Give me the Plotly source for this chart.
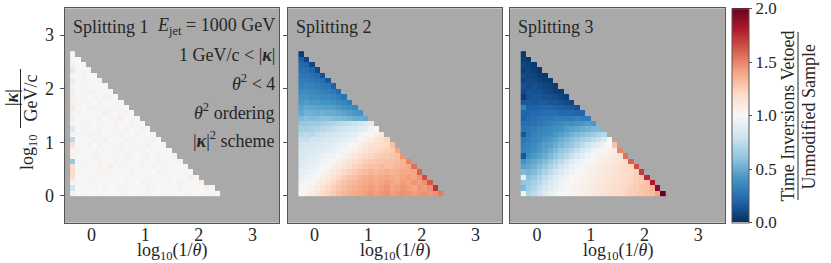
import plotly.graph_objects as go

# ---------------- data ----------------
BIN = 0.1
X_START = [-0.4, -0.3, -0.3]          # left edge of first log10(1/theta) bin per panel
Y_START = 0.0                          # lower edge of first log10(|k|) bin
PANEL_TITLES = ["Splitting 1", "Splitting 2", "Splitting 3"]
X_TICKS = [0, 1, 2, 3]
Y_TICKS = [0, 1, 2, 3]
CB_TICKS = [0.0, 0.5, 1.0, 1.5, 2.0]
Z_MIN, Z_MAX = 0.0, 2.0

# ratio values, rows listed from the top row (largest |k|) down to the bottom row
SPLIT1 = [
    [1.02],
    [0.97, 1.00],
    [1.03, 0.99, 1.01],
    [0.88, 1.01, 0.98, 1.02],
    [1.02, 0.98, 1.03, 0.99, 1.01],
    [0.90, 1.00, 0.97, 1.02, 0.99, 1.03],
    [1.04, 0.99, 1.02, 0.98, 1.01, 0.99, 1.02],
    [1.08, 1.01, 0.98, 1.03, 0.97, 1.02, 1.00, 0.98],
    [0.96, 0.99, 1.04, 1.00, 0.98, 1.01, 0.97, 1.03, 0.99],
    [1.05, 1.02, 0.98, 1.03, 1.00, 0.97, 1.02, 0.99, 1.04, 0.98],
    [1.10, 0.98, 1.01, 0.97, 1.04, 1.02, 0.98, 1.01, 0.97, 1.02, 0.99],
    [0.95, 1.03, 0.99, 1.02, 0.98, 1.01, 1.05, 0.97, 1.00, 1.03, 0.98, 1.01],
    [1.08, 0.99, 1.02, 0.98, 1.01, 0.97, 1.00, 1.03, 0.98, 1.06, 1.00, 0.97, 1.02],
    [0.97, 1.02, 0.98, 1.04, 0.99, 1.02, 0.97, 1.01, 1.04, 0.98, 1.01, 0.96, 1.03, 0.99],
    [0.85, 1.00, 1.03, 0.98, 1.02, 0.96, 1.01, 0.99, 1.03, 1.00, 0.97, 1.02, 0.99, 1.05, 0.98],
    [1.02, 0.98, 1.01, 1.04, 0.97, 1.02, 0.99, 1.03, 0.98, 0.96, 1.02, 1.00, 0.97, 1.02, 1.00, 0.98],
    [0.72, 1.01, 0.98, 1.00, 1.03, 0.98, 0.96, 1.01, 0.99, 1.02, 1.06, 0.98, 1.01, 0.99, 1.03, 0.97, 1.00],
    [1.15, 0.99, 1.02, 0.97, 1.00, 1.04, 1.01, 0.98, 1.02, 0.97, 1.00, 1.03, 0.98, 1.01, 0.96, 1.02, 0.99, 1.03],
    [0.98, 1.03, 0.99, 1.02, 0.98, 1.01, 1.03, 0.99, 0.97, 1.04, 0.99, 1.01, 0.97, 1.02, 1.00, 0.98, 1.03, 0.99, 1.01],
    [1.04, 0.98, 1.01, 0.99, 1.05, 0.97, 1.00, 1.02, 0.98, 1.01, 0.97, 1.03, 1.00, 0.98, 1.04, 1.00, 0.97, 1.02, 0.99, 1.03],
    [0.62, 1.01, 0.97, 1.02, 1.00, 1.03, 0.98, 1.01, 1.04, 0.99, 1.02, 0.98, 1.01, 0.97, 1.02, 0.99, 1.03, 0.98, 1.00, 1.02, 0.97],
    [1.18, 0.99, 1.02, 0.98, 1.01, 1.03, 0.99, 1.06, 1.00, 0.97, 1.02, 1.00, 0.98, 1.03, 1.01, 0.97, 1.02, 1.04, 0.98, 1.01, 0.99, 1.02],
    [1.20, 1.02, 0.98, 1.01, 0.99, 1.02, 1.04, 0.98, 1.01, 1.03, 0.99, 0.96, 1.01, 0.98, 1.02, 1.00, 0.97, 1.03, 0.99, 1.01, 0.98, 1.02, 0.99],
    [1.16, 1.00, 1.03, 0.99, 1.02, 0.98, 1.01, 0.99, 1.04, 1.00, 0.98, 1.02, 0.99, 1.01, 0.97, 1.02, 1.00, 0.98, 1.03, 0.99, 1.01, 1.00, 1.08, 0.99],
    [1.03, 0.98, 1.01, 0.97, 1.02, 1.00, 0.98, 1.03, 0.99, 1.01, 0.97, 1.02, 1.00, 0.96, 1.02, 0.99, 1.01, 0.98, 1.02, 1.00, 0.97, 1.03, 0.99, 1.01, 1.05],
    [0.80, 1.01, 0.99, 1.02, 0.98, 1.00, 1.03, 0.99, 1.01, 0.97, 1.02, 1.00, 0.98, 1.01, 0.97, 1.03, 0.99, 1.01, 0.98, 1.02, 0.96, 1.01, 0.99, 1.02, 1.00, 1.06, 0.99],
    [0.97, 1.00, 1.02, 0.99, 1.01, 0.98, 1.02, 1.00, 0.99, 1.03, 0.98, 1.01, 0.99, 1.02, 0.97, 1.01, 1.00, 0.98, 1.02, 0.99, 1.01, 0.98, 1.03, 1.00, 0.99, 1.02, 1.04, 1.00],
]

SPLIT2 = [
    [0.05],
    [0.18, 0.08],
    [0.22, 0.20, 0.08],
    [0.25, 0.24, 0.20, 0.10],
    [0.28, 0.27, 0.25, 0.22, 0.12],
    [0.30, 0.30, 0.28, 0.26, 0.24, 0.15],
    [0.32, 0.33, 0.32, 0.30, 0.28, 0.26, 0.18],
    [0.36, 0.36, 0.35, 0.34, 0.32, 0.30, 0.28, 0.22],
    [0.40, 0.40, 0.38, 0.38, 0.36, 0.35, 0.33, 0.30, 0.26],
    [0.42, 0.44, 0.42, 0.42, 0.40, 0.40, 0.38, 0.36, 0.34, 0.30],
    [0.46, 0.48, 0.47, 0.46, 0.46, 0.45, 0.44, 0.42, 0.40, 0.38, 0.35],
    [0.48, 0.52, 0.52, 0.50, 0.52, 0.50, 0.50, 0.48, 0.46, 0.44, 0.42, 0.40],
    [0.55, 0.58, 0.56, 0.57, 0.58, 0.58, 0.56, 0.55, 0.54, 0.52, 0.50, 0.50, 0.48],
    [0.62, 0.62, 0.64, 0.64, 0.66, 0.68, 0.70, 0.72, 0.74, 0.76, 0.78, 0.80, 0.84, 0.88],
    [0.66, 0.66, 0.68, 0.70, 0.72, 0.74, 0.76, 0.78, 0.80, 0.82, 0.84, 0.88, 0.90, 0.94, 1.00],
    [0.72, 0.74, 0.72, 0.76, 0.78, 0.80, 0.82, 0.84, 0.86, 0.88, 0.90, 0.94, 0.98, 1.02, 1.06, 1.12],
    [0.78, 0.76, 0.80, 0.80, 0.82, 0.84, 0.86, 0.88, 0.90, 0.92, 0.96, 1.00, 1.04, 1.08, 1.12, 1.15, 1.22],
    [0.80, 0.82, 0.82, 0.84, 0.86, 0.88, 0.90, 0.92, 0.94, 0.98, 1.02, 1.06, 1.10, 1.14, 1.16, 1.18, 1.20, 1.30],
    [0.82, 0.84, 0.86, 0.88, 0.88, 0.90, 0.92, 0.95, 0.98, 1.02, 1.06, 1.10, 1.14, 1.18, 1.20, 1.22, 1.24, 1.26, 1.40],
    [0.84, 0.86, 0.88, 0.90, 0.92, 0.94, 0.96, 1.00, 1.04, 1.08, 1.12, 1.16, 1.20, 1.22, 1.24, 1.26, 1.26, 1.28, 1.30, 1.45],
    [0.86, 0.88, 0.90, 0.92, 0.95, 0.98, 1.02, 1.06, 1.10, 1.14, 1.18, 1.22, 1.24, 1.26, 1.28, 1.28, 1.30, 1.30, 1.32, 1.35, 1.50],
    [0.88, 0.90, 0.92, 0.95, 0.98, 1.02, 1.06, 1.10, 1.14, 1.18, 1.22, 1.25, 1.28, 1.30, 1.30, 1.32, 1.30, 1.32, 1.34, 1.35, 1.38, 1.55],
    [0.90, 0.92, 0.95, 0.98, 1.02, 1.06, 1.10, 1.15, 1.20, 1.24, 1.26, 1.30, 1.32, 1.34, 1.32, 1.34, 1.36, 1.34, 1.36, 1.38, 1.38, 1.40, 1.60],
    [0.92, 0.95, 0.98, 1.02, 1.06, 1.10, 1.15, 1.20, 1.25, 1.28, 1.30, 1.34, 1.36, 1.38, 1.36, 1.38, 1.40, 1.38, 1.36, 1.40, 1.42, 1.40, 1.44, 1.65],
    [0.95, 0.98, 1.02, 1.06, 1.10, 1.15, 1.20, 1.25, 1.28, 1.32, 1.34, 1.36, 1.38, 1.40, 1.38, 1.40, 1.42, 1.40, 1.38, 1.42, 1.40, 1.44, 1.42, 1.46, 1.62],
    [0.98, 1.02, 1.05, 1.10, 1.15, 1.20, 1.25, 1.28, 1.32, 1.34, 1.36, 1.38, 1.40, 1.42, 1.40, 1.42, 1.44, 1.40, 1.42, 1.44, 1.42, 1.40, 1.44, 1.42, 1.46, 1.72],
    [1.00, 1.04, 1.08, 1.12, 1.18, 1.22, 1.26, 1.30, 1.34, 1.36, 1.38, 1.40, 1.42, 1.44, 1.42, 1.44, 1.46, 1.42, 1.44, 1.46, 1.44, 1.42, 1.44, 1.46, 1.44, 1.46, 1.52],
]

SPLIT3 = [
    [0.03],
    [0.06, 0.03],
    [0.08, 0.06, 0.03],
    [0.06, 0.08, 0.05, 0.03],
    [0.10, 0.08, 0.07, 0.05, 0.03],
    [0.08, 0.10, 0.09, 0.07, 0.05, 0.04],
    [0.12, 0.10, 0.12, 0.10, 0.08, 0.06, 0.04],
    [0.10, 0.14, 0.12, 0.12, 0.10, 0.08, 0.06, 0.05],
    [0.04, 0.12, 0.14, 0.14, 0.12, 0.12, 0.10, 0.08, 0.06],
    [0.14, 0.16, 0.15, 0.16, 0.16, 0.14, 0.14, 0.12, 0.10, 0.08],
    [0.32, 0.18, 0.18, 0.20, 0.20, 0.20, 0.18, 0.18, 0.16, 0.15, 0.12],
    [0.20, 0.20, 0.22, 0.22, 0.24, 0.24, 0.24, 0.22, 0.22, 0.22, 0.20, 0.20],
    [0.18, 0.22, 0.24, 0.26, 0.28, 0.28, 0.30, 0.30, 0.30, 0.30, 0.32, 0.30, 0.30],
    [0.24, 0.24, 0.26, 0.28, 0.30, 0.32, 0.34, 0.36, 0.38, 0.38, 0.40, 0.42, 0.44, 0.42],
    [0.26, 0.28, 0.30, 0.32, 0.34, 0.36, 0.38, 0.40, 0.44, 0.46, 0.48, 0.50, 0.52, 0.54, 0.55],
    [0.14, 0.28, 0.32, 0.34, 0.36, 0.38, 0.42, 0.45, 0.48, 0.52, 0.55, 0.58, 0.60, 0.64, 0.68, 0.72],
    [0.28, 0.30, 0.34, 0.36, 0.40, 0.42, 0.46, 0.50, 0.54, 0.58, 0.62, 0.66, 0.70, 0.74, 0.78, 0.85, 0.98],
    [0.30, 0.32, 0.36, 0.40, 0.44, 0.46, 0.50, 0.54, 0.58, 0.62, 0.68, 0.74, 0.80, 0.86, 0.90, 0.95, 1.00, 1.30],
    [0.32, 0.34, 0.38, 0.42, 0.46, 0.50, 0.55, 0.60, 0.64, 0.70, 0.76, 0.82, 0.88, 0.94, 0.98, 1.02, 1.05, 1.08, 1.50],
    [0.15, 0.38, 0.42, 0.46, 0.50, 0.55, 0.60, 0.66, 0.72, 0.78, 0.84, 0.90, 0.95, 1.00, 1.04, 1.06, 1.08, 1.10, 1.15, 1.55],
    [0.40, 0.44, 0.48, 0.52, 0.56, 0.62, 0.68, 0.74, 0.80, 0.86, 0.92, 0.96, 1.00, 1.04, 1.06, 1.08, 1.10, 1.12, 1.14, 1.18, 1.60],
    [0.45, 0.48, 0.52, 0.56, 0.62, 0.68, 0.74, 0.80, 0.86, 0.92, 0.96, 1.00, 1.04, 1.06, 1.08, 1.10, 1.12, 1.14, 1.16, 1.18, 1.22, 1.65],
    [0.55, 0.52, 0.56, 0.62, 0.68, 0.74, 0.80, 0.86, 0.92, 0.96, 1.00, 1.02, 1.04, 1.06, 1.08, 1.10, 1.12, 1.14, 1.16, 1.18, 1.20, 1.24, 1.70],
    [0.90, 0.58, 0.62, 0.68, 0.74, 0.80, 0.86, 0.92, 0.96, 1.00, 1.02, 1.04, 1.06, 1.08, 1.10, 1.12, 1.14, 1.16, 1.18, 1.20, 1.22, 1.24, 1.28, 1.75],
    [0.60, 0.62, 0.66, 0.72, 0.78, 0.84, 0.90, 0.95, 0.98, 1.00, 1.02, 1.04, 1.06, 1.08, 1.10, 1.12, 1.14, 1.16, 1.18, 1.20, 1.22, 1.24, 1.26, 1.30, 1.80],
    [0.55, 0.65, 0.70, 0.76, 0.82, 0.88, 0.92, 0.96, 1.00, 1.02, 1.04, 1.06, 1.08, 1.10, 1.12, 1.14, 1.16, 1.18, 1.20, 1.22, 1.24, 1.26, 1.28, 1.30, 1.35, 1.90],
    [0.95, 0.68, 0.74, 0.80, 0.86, 0.92, 0.96, 0.98, 1.00, 1.02, 1.04, 1.06, 1.08, 1.10, 1.12, 1.14, 1.16, 1.18, 1.20, 1.22, 1.24, 1.26, 1.28, 1.30, 1.32, 1.40, 2.00],
]

PANELS = [SPLIT1, SPLIT2, SPLIT3]

# ---------------- styling ----------------
W, H = 831, 263
FONT = "Liberation Serif"
FS = 18
TXT = "#262626"
FRAME = "#555555"
BG = "#a9a9a9"
RDBU_R = [
    [0.0, "rgb(5,48,97)"], [0.1, "rgb(33,102,172)"], [0.2, "rgb(67,147,195)"],
    [0.3, "rgb(146,197,222)"], [0.4, "rgb(209,229,240)"], [0.5, "rgb(247,247,247)"],
    [0.6, "rgb(253,219,199)"], [0.7, "rgb(244,165,130)"], [0.8, "rgb(214,96,77)"],
    [0.9, "rgb(178,24,43)"], [1.0, "rgb(103,0,31)"],
]


def px(x):
    return x / W


def py(y):
    return 1 - y / H


PANEL_PX = [(64.7, 279.3), (287.7, 502.3), (510.0, 725.0)]
TOP_PX, BOT_PX = 8.3, 222.7


def to_grid(rows_top_first):
    rows = list(reversed(rows_top_first))
    ncols = max(len(r) for r in rows)
    return [list(r) + [None] * (ncols - len(r)) for r in rows]


fig = go.Figure()
layout = dict(
    width=W, height=H, margin=dict(l=0, r=0, t=0, b=0, pad=0, autoexpand=False),
    paper_bgcolor="white", plot_bgcolor=BG,
    font=dict(family=FONT, size=FS, color=TXT),
    showlegend=False,
)

for k, rows in enumerate(PANELS):
    sfx = "" if k == 0 else str(k + 1)
    fig.add_trace(go.Heatmap(
        z=to_grid(rows),
        x0=X_START[k] + BIN / 2, dx=BIN,
        y0=Y_START + BIN / 2, dy=BIN,
        zmin=Z_MIN, zmax=Z_MAX, colorscale=RDBU_R,
        showscale=(k == 2),
        xaxis="x" + sfx, yaxis="y" + sfx,
        hoverongaps=False,
        colorbar=dict(
            x=px(731.7), xanchor="left", xpad=0,
            y=py((TOP_PX + BOT_PX) / 2), yanchor="middle", ypad=0,
            len=(BOT_PX - TOP_PX) / H, lenmode="fraction",
            thickness=17, thicknessmode="pixels",
            outlinecolor=FRAME, outlinewidth=1,
            tickmode="array", tickvals=CB_TICKS,
            ticktext=["%.1f" % v for v in CB_TICKS],
            ticks="outside", ticklen=3, tickcolor=FRAME,
            ticklabeloverflow="allow",
            tickfont=dict(family=FONT, size=17, color=TXT),
        ),
    ))
    x0p, x1p = PANEL_PX[k]
    axis_common = dict(
        showgrid=False, zeroline=False, showline=True, mirror=True,
        linecolor=FRAME, linewidth=1,
        tickcolor=FRAME, tickfont=dict(family=FONT, size=FS, color=TXT),
        automargin=False,
    )
    layout["xaxis" + sfx] = dict(
        axis_common, domain=[px(x0p), px(x1p)], range=[-0.5, 3.5],
        tickvals=X_TICKS, anchor="y" + sfx, ticks="", ticklabelstandoff=-4,
    )
    layout["yaxis" + sfx] = dict(
        axis_common, domain=[py(BOT_PX), py(TOP_PX)], range=[-0.5, 3.5],
        tickvals=Y_TICKS, anchor="x" + sfx, showticklabels=(k == 0),
        ticks="outside", ticklen=4, ticklabelstandoff=2,
    )

fig.update_layout(**layout)

ann = []


def add_text(text, x, y, xanchor="center", angle=0, size=FS):
    ann.append(dict(text=text, x=px(x), y=py(y), xref="paper", yref="paper",
                    xanchor=xanchor, yanchor="middle", showarrow=False,
                    textangle=angle, font=dict(family=FONT, size=size, color=TXT)))


# panel titles
add_text(PANEL_TITLES[0], 70.5, 26.5, "left")
add_text(PANEL_TITLES[1], 293.5, 26.5, "left")
add_text(PANEL_TITLES[2], 516.0, 26.5, "left")

# x-axis titles
for x0p, x1p in PANEL_PX:
    add_text("log<sub>10</sub>(1/<i>θ</i>)", (x0p + x1p) / 2, 251.5)

# settings text in panel 1
KAPPA = "<b><i>κ</i></b>"
SETTINGS = [
    "<i>E</i><sub>jet</sub> = 1000 GeV",
    "1 GeV/c &lt; |" + KAPPA + "|",
    "<i>θ</i><sup>2</sup> &lt; 4",
    "<i>θ</i><sup>2</sup> ordering",
    "|" + KAPPA + "|<sup>2</sup> scheme",
]
for i, s in enumerate(SETTINGS):
    add_text(s, 276.5, 26.5 + 28.2 * i, "right")

# y-axis fraction label
add_text("log<sub>10</sub>", 29, 152, angle=-90)
add_text("|" + KAPPA + "|", 12, 98, angle=-90)
add_text("GeV/c", 30.5, 98, angle=-90)

# colorbar fraction label
add_text("Time Inversions Vetoed", 787.5, 116, angle=-90)
add_text("Unmodified Sample", 808.5, 117, angle=-90)

fig.update_layout(annotations=ann)

shapes = [
    dict(type="line", xref="paper", yref="paper",
         x0=px(20.5), x1=px(20.5), y0=py(69), y1=py(128),
         line=dict(color=TXT, width=1)),
    dict(type="line", xref="paper", yref="paper",
         x0=px(798), x1=px(798), y0=py(32), y1=py(200),
         line=dict(color=TXT, width=1)),
]
fig.update_layout(shapes=shapes)

fig.write_html(
    "out.html",
    config={"displayModeBar": False},
    post_script="document.body.style.margin='0';document.body.style.overflow='hidden';",
)
